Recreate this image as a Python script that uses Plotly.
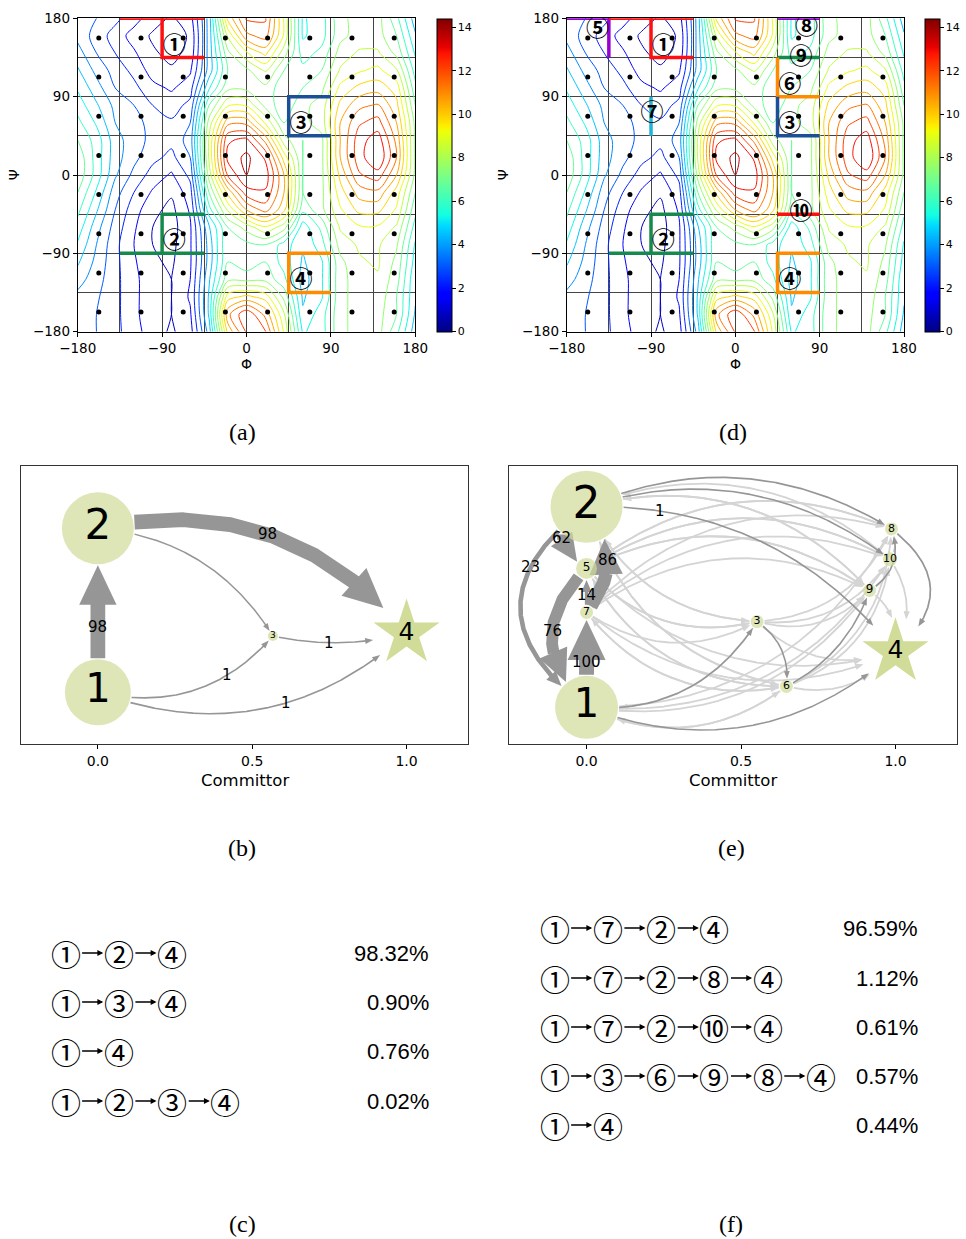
import numpy as np
import plotly.graph_objects as go

W, H = 966, 1239

# ------------------------------------------------------------------ data
# free energy on the Ramachandran plane, 20-degree grid
phi = list(range(-180, 181, 20))
psi = list(range(-180, 181, 20))
# one row per psi value (from -180 up to 180); columns follow phi
free_energy = [
    # -180 -160 -140 -120 -100 -80  -60  -40  -20    0    20   40   60   80   100  120  140  160  180
    [4.0, 3.5, 3.0, 2.4, 1.7, 1.3, 1.8, 4.5, 10.0, 12.0, 12.0, 9.0, 5.5, 6.0, 7.5, 8.0, 8.0, 6.5, 4.5],   # -180
    [4.0, 3.5, 3.0, 2.3, 1.6, 1.4, 2.0, 5.0, 11.0, 12.5, 11.0, 8.5, 5.0, 6.0, 7.5, 8.0, 8.0, 7.0, 4.8],   # -160
    [4.0, 3.6, 3.0, 2.3, 1.6, 1.4, 2.2, 5.0, 9.5, 10.0, 9.5, 7.5, 4.8, 5.5, 7.5, 8.0, 8.2, 7.0, 5.0],     # -140
    [4.5, 3.8, 3.0, 2.3, 1.6, 1.4, 2.1, 4.8, 7.5, 7.5, 7.5, 6.5, 4.6, 5.5, 7.5, 8.0, 8.3, 7.3, 5.0],      # -120
    [5.0, 4.0, 3.0, 2.2, 1.5, 1.3, 2.0, 4.5, 7.0, 6.5, 7.0, 6.0, 4.8, 5.5, 7.5, 8.3, 8.5, 7.5, 5.3],      # -100
    [5.5, 4.2, 3.0, 2.1, 1.4, 1.2, 2.0, 4.5, 7.0, 6.8, 7.0, 6.0, 5.0, 6.0, 8.0, 8.5, 8.5, 7.8, 5.5],      # -80
    [6.0, 4.5, 3.2, 2.2, 1.4, 1.1, 2.0, 4.8, 7.0, 8.0, 9.0, 8.0, 5.2, 6.5, 8.5, 9.0, 9.0, 8.3, 6.0],      # -60
    [6.5, 5.0, 3.5, 2.4, 1.6, 1.2, 2.2, 6.0, 8.5, 10.5, 11.5, 10.0, 6.5, 7.5, 9.0, 10.0, 10.0, 9.0, 6.5],  # -40
    [7.0, 5.5, 3.8, 2.8, 2.0, 1.5, 2.5, 7.0, 10.0, 12.3, 12.5, 10.5, 7.0, 7.5, 9.5, 10.8, 11.0, 9.5, 7.0], # -20
    [7.5, 6.0, 4.3, 3.3, 2.5, 2.0, 3.0, 8.0, 12.0, 13.3, 13.0, 10.5, 7.0, 7.5, 10.0, 11.8, 12.3, 10.5, 7.5],  # 0
    [7.5, 6.0, 4.5, 3.7, 3.0, 2.6, 3.5, 8.5, 12.8, 13.5, 12.5, 9.5, 7.0, 7.5, 10.5, 12.3, 13.3, 11.2, 7.5],  # 20
    [7.0, 6.0, 4.5, 3.8, 3.3, 3.0, 3.8, 8.5, 12.5, 12.8, 11.0, 8.0, 7.0, 7.5, 10.5, 12.3, 13.0, 11.0, 7.5],  # 40
    [6.5, 5.5, 4.2, 3.8, 3.2, 2.9, 3.5, 8.0, 11.0, 11.0, 9.0, 7.0, 7.5, 8.0, 10.5, 11.8, 12.2, 10.5, 7.5],   # 60
    [6.0, 5.0, 4.0, 3.5, 2.8, 2.5, 3.0, 7.0, 9.0, 9.0, 7.5, 6.5, 7.5, 8.0, 10.0, 11.0, 11.3, 10.0, 7.0],     # 80
    [5.5, 4.5, 3.5, 3.0, 2.3, 2.0, 2.5, 5.5, 7.5, 7.5, 7.5, 6.5, 7.0, 7.5, 9.3, 10.0, 10.2, 9.5, 6.5],      # 100
    [5.0, 4.0, 3.2, 2.6, 1.8, 1.5, 2.0, 4.5, 7.0, 7.5, 8.5, 7.0, 6.5, 7.0, 8.5, 9.0, 9.3, 8.5, 6.0],        # 120
    [4.5, 3.5, 2.8, 2.2, 1.5, 1.2, 1.6, 4.5, 7.5, 9.0, 10.0, 8.0, 6.0, 6.5, 8.0, 8.5, 8.5, 7.5, 5.5],       # 140
    [4.0, 3.2, 2.5, 1.8, 1.3, 1.0, 1.5, 4.5, 8.5, 11.0, 11.5, 9.0, 5.5, 6.0, 7.5, 8.0, 8.0, 7.0, 5.0],      # 160
    [4.0, 3.5, 3.0, 2.4, 1.7, 1.3, 1.8, 4.5, 10.0, 12.0, 12.0, 9.0, 5.5, 6.0, 7.5, 8.0, 8.0, 6.5, 4.5],     # 180
]
cell_centres = [-157.5, -112.5, -67.5, -22.5, 22.5, 67.5, 112.5, 157.5]
cbar_ticks = [0, 2, 4, 6, 8, 10, 12, 14]
angle_ticks = [-180, -90, 0, 90, 180]

# state boundaries drawn on the (phi, psi) maps
boundaries_a = {
    1: [[(-135, 180), (-45, 180)], [(-90, 180), (-90, 135), (-45, 135)]],
    2: [[(-45, -45), (-90, -45), (-90, -90)], [(-135, -90), (-45, -90)]],
    3: [[(90, 90), (45, 90), (45, 45), (90, 45)]],
    4: [[(90, -90), (45, -90), (45, -135), (90, -135)]],
}
boundaries_d = {
    5: [[(-180, 180), (-135, 180), (-135, 135)]],
    1: boundaries_a[1],
    7: [[(-90, 90), (-90, 45)]],
    2: boundaries_a[2],
    8: [[(45, 180), (90, 180)]],
    9: [[(45, 135), (90, 135)]],
    6: [[(45, 135), (45, 90), (90, 90)]],
    3: [[(45, 90), (45, 45), (90, 45)]],
    10: [[(45, -45), (90, -45)]],
    4: boundaries_a[4],
}
label_at_a = {1: (-77, 147), 2: (-77, -77), 3: (58, 57), 4: (58, -122)}
label_at_d = {5: (-147, 166), 1: (-77, 147), 7: (-89, 70), 2: (-77, -77), 8: (76, 169),
              9: (70, 134), 6: (58, 102), 3: (58, 57), 10: (70, -44), 4: (58, -122)}

# coarse-grained networks: committor of every state and reactive fluxes
nodes_b = [1, 2, 3, 4]
committor_b = [0.0, 0.0, 0.567, 1.0]
edges_b = [(1, 2), (2, 4), (2, 3), (1, 3), (3, 4), (1, 4)]
flux_b = [98, 98, 0.02, 1, 1, 1]
flux_label_b = ["98", "98", None, "1", "1", "1"]

nodes_e = [1, 2, 5, 7, 3, 6, 9, 10, 8, 4]
committor_e = [0.0, 0.0, 0.0, 0.0, 0.552, 0.647, 0.916, 0.982, 0.987, 1.0]
edges_e = [(1, 7), (7, 2), (7, 5), (5, 1), (2, 5), (2, 1), (2, 4), (2, 8), (2, 10),
           (1, 3), (1, 4), (3, 6), (6, 9), (9, 8), (8, 4)]
flux_e = [100, 86, 14, 76, 62, 23, 1, 1.12, 0.61, 0.57, 0.44, 0.57, 0.57, 0.57, 1.69]
flux_label_e = ["100", "86", "14", "76", "62", "23", "1", None, None, None, None, None, None, None, None]
other_edges_e = [
    (1, 6), (1, 9), (1, 10), (1, 8), (2, 3), (2, 6), (2, 9),
    (5, 3), (5, 6), (5, 9), (5, 10), (5, 8), (5, 4),
    (7, 3), (7, 6), (7, 9), (7, 10), (7, 8), (7, 4),
    (3, 1), (3, 2), (3, 5), (6, 1), (6, 2), (6, 5), (6, 7), (9, 2), (9, 5), (10, 5), (8, 5), (10, 2),
    (3, 9), (3, 10), (3, 8), (3, 4), (6, 10), (6, 8), (6, 4), (9, 10), (9, 4), (10, 4), (10, 8),
]

# dominant pathways
paths_c = [[1, 2, 4], [1, 3, 4], [1, 4], [1, 2, 3, 4]]
share_c = [98.32, 0.90, 0.76, 0.02]
paths_f = [[1, 7, 2, 4], [1, 7, 2, 8, 4], [1, 7, 2, 10, 4], [1, 3, 6, 9, 8, 4], [1, 4]]
share_f = [96.59, 1.12, 0.61, 0.57, 0.44]

# ------------------------------------------------------------------ style
CIRCLED = dict(zip(range(1, 11), "①②③④⑤⑥⑦⑧⑨⑩"))
JET = [[0.0, "rgb(0,0,128)"], [0.11, "rgb(0,0,255)"], [0.125, "rgb(0,0,255)"],
       [0.34, "rgb(0,219,255)"], [0.375, "rgb(20,255,226)"], [0.5, "rgb(124,255,132)"],
       [0.64, "rgb(238,255,8)"], [0.66, "rgb(255,236,0)"], [0.89, "rgb(255,19,0)"],
       [0.91, "rgb(232,0,0)"], [1.0, "rgb(128,0,0)"]]
STATE_COLOUR = {1: "#ff1010", 2: "#168a4c", 3: "#1b4f97", 4: "#ff8c00", 5: "#9600d2",
                6: "#ff8c00", 7: "#20b4d6", 8: "#9600d2", 9: "#168a4c", 10: "#ff1010"}
NODE = "rgb(208,220,152)"
DARK = "rgb(150,150,150)"
LIGHT = "rgb(212,212,212)"
ZMAX = 14.4

# panel frames in pixels: (left, right), (top, bottom)
FRAME = {
    "a": ((77.7, 415.3), (18.3, 331.7)),
    "d": ((566.7, 904.0), (18.3, 331.7)),
    "b": ((20.7, 468.3), (466.0, 744.3)),
    "e": ((509.3, 957.3), (466.0, 744.3)),
}
NET_X = [-0.25, 1.2]
NET_Y = [0.0, 1.0]
# vertical placement of the network nodes
layout_y_b = {1: 0.187, 2: 0.776, 3: 0.389, 4: 0.399}
layout_y_e = {1: 0.133, 2: 0.854, 5: 0.632, 7: 0.474, 3: 0.441, 6: 0.208,
              9: 0.553, 10: 0.665, 8: 0.774, 4: 0.332}
radius_b = {1: 33, 2: 36, 3: 5, 4: 33}
radius_e = {1: 31.5, 2: 36, 5: 10.5, 7: 6.5, 3: 6.5, 6: 6.5, 9: 6.5, 10: 7, 8: 6.5, 4: 33}
font_b = {1: 40, 2: 42, 3: 9, 4: 25}
font_e = {1: 40, 2: 44, 5: 12, 7: 11, 3: 11, 6: 11, 9: 12, 10: 11, 8: 11, 4: 25}
# arc bending and label placement (fraction along the edge)
bend_b = [0.0, 0.3, 0.25, -0.3, -0.12, -0.3]
label_t_b = [0.4, 0.5, None, 0.7, 0.42, 0.58]
bend_e = [0.0, -0.4, 0.0, -0.5, -0.8, -0.66, 0.25, 0.26, 0.26, -0.3, -0.3, 0.3, -0.2, -0.4, 0.6]
label_t_e = [0.48, 0.5, 0.4, 0.45, 0.5, 0.3, 0.2, None, None, None, None, None, None, None, None]

TICKFONT = dict(family="DejaVu Sans", size=13.5, color="black")

fig = go.Figure()


def px2paper(x, y):
    return x / W, 1 - y / H


def paper_text(px, py, text, font, **kw):
    x, y = px2paper(px, py)
    opts = dict(xanchor="center", yanchor="middle")
    opts.update(kw)
    fig.add_annotation(x=x, y=y, xref="paper", yref="paper", text=text, showarrow=False,
                       font=font, **opts)


def mapper(key, xr, yr):
    (x0, x1), (y0, y1) = FRAME[key]
    sx = (x1 - x0) / (xr[1] - xr[0])
    sy = (y1 - y0) / (yr[1] - yr[0])

    def to_px(x, y):
        return np.array([x0 + (x - xr[0]) * sx, y1 - (y - yr[0]) * sy])

    def to_data(p):
        p = np.atleast_2d(p)
        return xr[0] + (p[:, 0] - x0) / sx, yr[0] + (y1 - p[:, 1]) / sy

    return to_px, to_data


# ------------------------------------------------------------------ maps
def add_map(key, xa, ya, boundaries, label_at, cbar_left):
    (x0, x1), (y0, y1) = FRAME[key]
    fig.add_trace(go.Contour(
        x=phi, y=psi, z=free_energy, xaxis=xa, yaxis=ya,
        colorscale=JET, zmin=0, zmax=ZMAX, showscale=False,
        contours=dict(coloring="lines", start=0.7, end=14.0, size=0.7),
        line=dict(width=1, smoothing=0.9), hoverinfo="skip"))
    gx, gy = np.meshgrid(cell_centres, cell_centres)
    fig.add_trace(go.Scatter(x=gx.ravel(), y=gy.ravel(), mode="markers", xaxis=xa, yaxis=ya,
                             marker=dict(color="black", size=5), hoverinfo="skip"))
    for s, lines in boundaries.items():
        for line in lines:
            fig.add_trace(go.Scatter(x=[p[0] for p in line], y=[p[1] for p in line], mode="lines",
                                     xaxis=xa, yaxis=ya, hoverinfo="skip",
                                     line=dict(color=STATE_COLOUR[s], width=3.5)))
    ids = list(label_at)
    fig.add_trace(go.Scatter(x=[label_at[s][0] for s in ids], y=[label_at[s][1] for s in ids],
                             mode="text", text=[CIRCLED[s] for s in ids], xaxis=xa, yaxis=ya,
                             textposition="middle center", hoverinfo="skip",
                             textfont=dict(family="Noto Sans CJK JP", size=23, color="black",
                                           weight="bold")))
    # colour bar
    fig.add_trace(go.Scatter(
        x=[0], y=[0], mode="markers", xaxis=xa, yaxis=ya, hoverinfo="skip",
        marker=dict(size=0.1, opacity=0, color=[0], cmin=0, cmax=ZMAX, colorscale=JET,
                    showscale=True,
                    colorbar=dict(x=cbar_left / W, xanchor="left", xpad=0, ypad=0,
                                  y=1 - (y0 + y1) / 2 / H, yanchor="middle",
                                  len=(y1 - y0) / H, lenmode="fraction",
                                  thickness=15.3, thicknessmode="pixels",
                                  outlinewidth=1, outlinecolor="black",
                                  tickvals=cbar_ticks, ticks="outside", ticklen=3.5,
                                  tickcolor="black",
                                  tickfont=dict(family="DejaVu Sans", size=11, color="black")))))
    # axis labels
    paper_text((x0 + x1) / 2, 364, "Φ", dict(family="DejaVu Sans", size=14, color="black"))
    paper_text(x0 - 63.5, (y0 + y1) / 2, "Ψ", dict(family="DejaVu Sans", size=14, color="black"),
               textangle=-90)


def map_axes(key, anchor):
    (x0, x1), (y0, y1) = FRAME[key]
    common = dict(range=[-180, 180], tickvals=angle_ticks, ticks="outside", ticklen=4,
                  tickcolor="black", showline=True, linecolor="black", linewidth=1, mirror=True,
                  showgrid=True, gridcolor="#444444", gridwidth=1, zeroline=False,
                  minor=dict(tick0=0, dtick=45, showgrid=True, gridcolor="#444444", gridwidth=1),
                  tickfont=TICKFONT, automargin=False)
    xa = dict(common, domain=[x0 / W, x1 / W], anchor=anchor[1])
    ya = dict(common, domain=[1 - y1 / H, 1 - y0 / H], anchor=anchor[0])
    return xa, ya


add_map("a", "x", "y", boundaries_a, label_at_a, 436.7)
add_map("d", "x2", "y2", boundaries_d, label_at_d, 925.0)


# ------------------------------------------------------------------ networks
def edge_width(f):
    return 1.5 + 0.135 * f


def add_edge(conv, xa, ya, p0, p1, r0, r1, rad, width, colour, label=None, label_t=0.5):
    to_px, to_data = conv
    a, b = to_px(*p0), to_px(*p1)
    d = b - a
    ctrl = (a + b) / 2 + rad * np.array([d[1], -d[0]])
    t = np.linspace(0, 1, 900)[:, None]
    curve = (1 - t) ** 2 * a + 2 * (1 - t) * t * ctrl + t ** 2 * b
    keep = (np.hypot(*(curve - a).T) >= r0 + 1) & (np.hypot(*(curve - b).T) >= r1 + 1)
    idx = np.flatnonzero(keep)
    seg = curve[idx[0]:idx[-1] + 1]
    head_len = 2.4 * width + 4
    head_w = 2.4 * width + 2
    s = np.r_[0, np.cumsum(np.hypot(*np.diff(seg, axis=0).T))]
    k = int(np.searchsorted(s, s[-1] - head_len))
    tip = seg[-1]
    ref = seg[max(k, 0)] if k < len(seg) - 1 else seg[0]
    u = (tip - ref) / np.linalg.norm(tip - ref)
    base = tip - u * head_len
    nrm = np.array([-u[1], u[0]])
    if s[-1] > head_len:
        shaft = np.vstack([seg[:k + 1], base + u * 1.0])
        sx, sy = to_data(shaft)
        fig.add_trace(go.Scatter(x=sx, y=sy, mode="lines", xaxis=xa, yaxis=ya, hoverinfo="skip",
                                 line=dict(color=colour, width=width)))
    head = np.array([tip, base + nrm * head_w / 2, base - nrm * head_w / 2, tip])
    hx, hy = to_data(head)
    fig.add_trace(go.Scatter(x=hx, y=hy, mode="lines", fill="toself", fillcolor=colour,
                             line=dict(width=0, color=colour), xaxis=xa, yaxis=ya, hoverinfo="skip"))
    if label is not None:
        tl = label_t
        p = (1 - tl) ** 2 * a + 2 * (1 - tl) * tl * ctrl + tl ** 2 * b
        lx, ly = to_data(p)
        fig.add_annotation(x=lx[0], y=ly[0], xref=xa, yref=ya, text=label, showarrow=False,
                           xanchor="center", yanchor="middle",
                           font=dict(family="DejaVu Sans", size=15, color="black"))


def add_network(key, xa, ya, nodes, committor, ypos, radius, fonts,
                edges, flux, labels, bends, label_ts, extra_edges=()):
    conv = mapper(key, NET_X, NET_Y)
    to_px = conv[0]
    pos = {n: (c, ypos[n]) for n, c in zip(nodes, committor)}
    centre = np.mean([to_px(*pos[n]) for n in nodes], axis=0)
    for (u, v) in extra_edges:
        a, b = to_px(*pos[u]), to_px(*pos[v])
        d = b - a
        away = np.dot(np.array([d[1], -d[0]]), (a + b) / 2 - centre)
        add_edge(conv, xa, ya, pos[u], pos[v], radius[u], radius[v],
                 0.3 if away >= 0 else -0.3, 1.8, LIGHT)
    for (u, v), f, lab, rad, lt in zip(edges, flux, labels, bends, label_ts):
        add_edge(conv, xa, ya, pos[u], pos[v], radius[u], radius[v], rad, edge_width(f), DARK,
                 lab, lt if lt is not None else 0.5)
    circ = [n for n in nodes if n != 4]
    fig.add_trace(go.Scatter(
        x=[pos[n][0] for n in circ], y=[pos[n][1] for n in circ], mode="markers+text",
        xaxis=xa, yaxis=ya, hoverinfo="skip", text=[str(n) for n in circ],
        textposition="middle center",
        textfont=dict(family="DejaVu Sans", size=[fonts[n] for n in circ], color="black"),
        marker=dict(size=[2 * radius[n] for n in circ], color=NODE, line=dict(width=0))))
    fig.add_trace(go.Scatter(
        x=[pos[4][0]], y=[pos[4][1]], mode="markers+text", xaxis=xa, yaxis=ya, hoverinfo="skip",
        text=["4"], textposition="middle center",
        textfont=dict(family="DejaVu Sans", size=fonts[4], color="black"),
        marker=dict(symbol="star", size=49.6, color=NODE, line=dict(width=0))))
    (x0, x1), (y0, y1) = FRAME[key]
    paper_text((x0 + x1) / 2, 780, "Committor", dict(family="DejaVu Sans", size=16.5, color="black"))


def net_axes(key, anchor):
    (x0, x1), (y0, y1) = FRAME[key]
    xa = dict(domain=[x0 / W, x1 / W], range=NET_X, anchor=anchor[1],
              tickvals=[0, 0.5, 1.0], ticktext=["0.0", "0.5", "1.0"], ticks="outside",
              ticklen=4, tickcolor="black", showline=True, linecolor="#333", mirror=True,
              showgrid=False, zeroline=False, automargin=False,
              tickfont=dict(family="DejaVu Sans", size=14, color="black"))
    ya = dict(domain=[1 - y1 / H, 1 - y0 / H], range=NET_Y, anchor=anchor[0],
              showticklabels=False, ticks="", showline=True, linecolor="#333", mirror=True,
              showgrid=False, zeroline=False, automargin=False)
    return xa, ya


add_network("b", "x3", "y3", nodes_b, committor_b, layout_y_b, radius_b, font_b,
            edges_b, flux_b, flux_label_b, bend_b, label_t_b)
add_network("e", "x4", "y4", nodes_e, committor_e, layout_y_e, radius_e, font_e,
            edges_e, flux_e, flux_label_e, bend_e, label_t_e, other_edges_e)


# ------------------------------------------------------------------ pathway lists
PITCH = 53.3      # distance between consecutive states in a pathway (px)
CIRCLE_D = 25.0   # width of a circled state label (px)


def add_paths(paths, shares, left, right, rows):
    for p, sh, yy in zip(paths, shares, rows):
        for i, n in enumerate(p):
            cx = left + CIRCLE_D / 2 + i * PITCH
            paper_text(cx, yy, CIRCLED[n], dict(family="Noto Sans CJK JP", size=30, color="black"))
            if i < len(p) - 1:
                x_tip, y_tip = px2paper(cx + CIRCLE_D / 2 + 25.2, yy)
                fig.add_annotation(x=x_tip, y=y_tip, xref="paper", yref="paper", text="",
                                   showarrow=True, arrowhead=2, arrowsize=0.9, arrowwidth=1.3,
                                   arrowcolor="black", ax=-22.6, ay=0, standoff=0)
        paper_text(right, yy, f"{sh:.2f}%", dict(family="Liberation Sans", size=22, color="black"),
                   xanchor="right")


add_paths(paths_c, share_c, 53, 431, [953, 1002, 1051, 1101])
add_paths(paths_f, share_f, 542, 920, [928, 978, 1027, 1076, 1125])

# panel letters
for letter, (px, py) in {"(a)": (242, 432), "(d)": (733, 432), "(b)": (242, 848),
                         "(e)": (731, 848), "(c)": (242, 1224), "(f)": (731, 1224)}.items():
    paper_text(px, py, letter, dict(family="Liberation Serif", size=24, color="black"))

xa1, ya1 = map_axes("a", ("x", "y"))
xa2, ya2 = map_axes("d", ("x2", "y2"))
xa3, ya3 = net_axes("b", ("x3", "y3"))
xa4, ya4 = net_axes("e", ("x4", "y4"))

fig.update_layout(
    template="none",
    width=W, height=H, margin=dict(l=0, r=0, t=0, b=0, pad=0), autosize=False,
    paper_bgcolor="white", plot_bgcolor="white", showlegend=False,
    font=dict(family="DejaVu Sans", color="black"),
    xaxis=xa1, yaxis=ya1, xaxis2=xa2, yaxis2=ya2,
    xaxis3=xa3, yaxis3=ya3, xaxis4=xa4, yaxis4=ya4,
)

fig.write_html("out.html")
